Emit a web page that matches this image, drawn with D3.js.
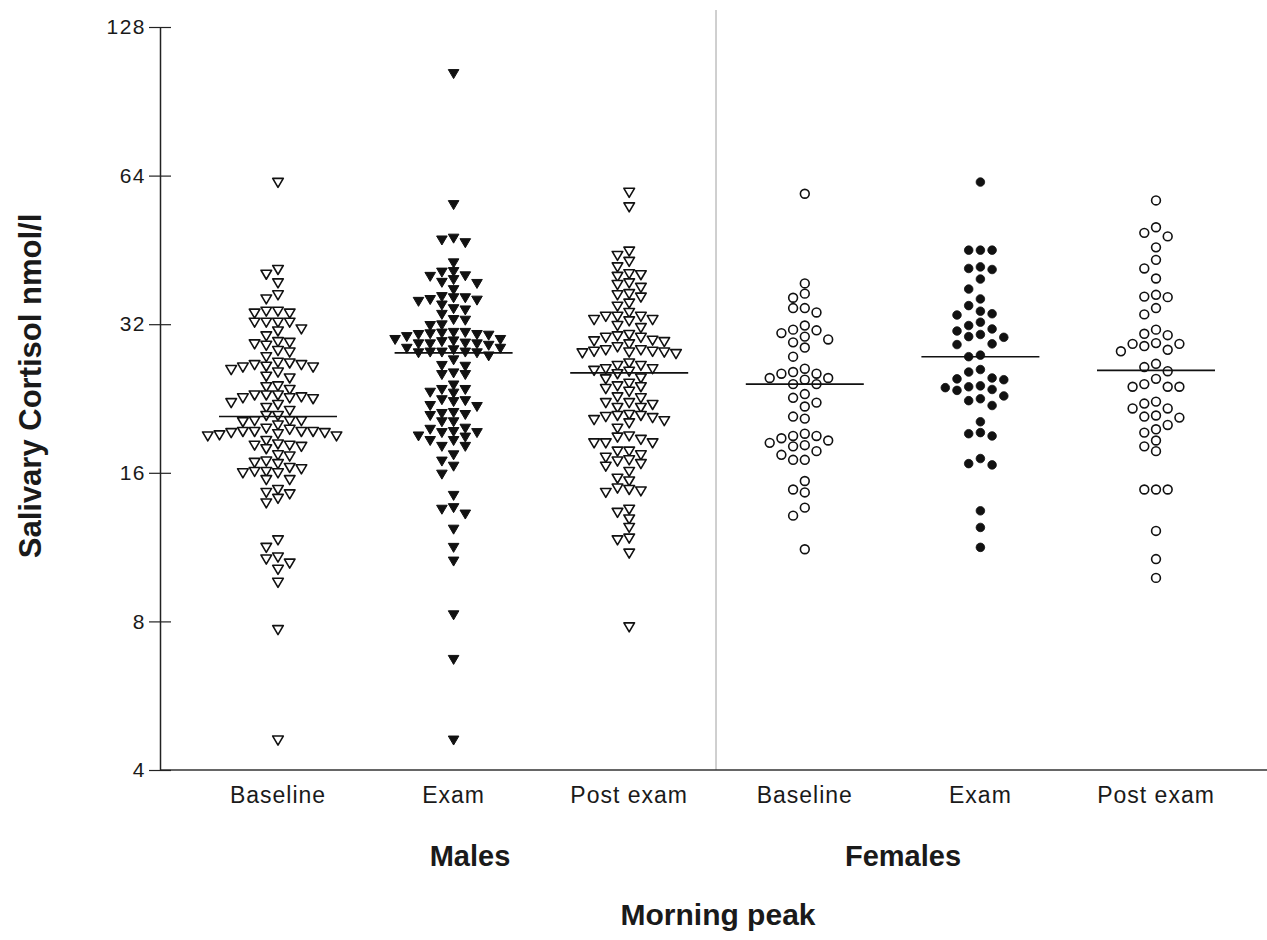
<!DOCTYPE html>
<html lang="en">
<head>
<meta charset="utf-8">
<title>Salivary cortisol</title>
<style>
  body { margin: 0; padding: 0; background: #fff; }
  svg { display: block; }
  text { font-family: "Liberation Sans", Arial, Helvetica, sans-serif; fill: #1a1a1a; }
</style>
<script src="https://cdn.jsdelivr.net/npm/d3@7"></script>
</head>
<body>
<div id="root"></div>
<script>
  // values, nmol/l
  var yTicks = [4, 8, 16, 32, 64, 128];
  var categories = ["Baseline", "Exam", "Post exam", "Baseline", "Exam", "Post exam"];
  var sexes = ["Males", "Females"];
  var axisTitle = "Salivary Cortisol nmol/l";
  var panelTitle = "Morning peak";

  var maleBaseline = [62, 41.3, 40.4, 38.8, 36.7, 36.0, 34.0, 34.0, 33.7, 33.7, 32.3, 32.3, 32.3, 32.3, 31.3, 31.0, 30.3, 29.5, 29.2, 29.0, 29.4, 28.3, 28.1, 27.5, 26.5, 26.3, 26.8, 25.9, 26.7, 25.6, 26.2, 26.2, 26.5, 24.9, 25.1, 23.9, 24.0, 23.6, 23.0, 23.0, 22.7, 22.6, 22.0, 22.2, 22.7, 22.8, 23.0, 21.7, 21.4, 20.9, 20.4, 20.4, 20.4, 20.9, 20.3, 19.7, 19.4, 19.4, 19.3, 19.4, 19.4, 19.6, 20.0, 19.1, 19.0, 19.0, 19.2, 19.3, 18.2, 18.3, 17.9, 18.2, 18.6, 18.1, 17.3, 17.4, 16.9, 16.7, 16.1, 16.0, 16.0, 16.1, 16.4, 16.8, 15.5, 15.5, 16.3, 14.6, 14.2, 14.8, 13.9, 14.5, 11.7, 11.3, 10.8, 10.5, 10.2, 10.7, 9.6, 7.7, 4.6];
  var maleExam = [103, 55.9, 47.8, 46.8, 47.4, 42.6, 40.8, 40.0, 38.9, 39.4, 38.7, 40.1, 40.9, 37.6, 36.4, 36.2, 35.9, 35.8, 35.0, 35.6, 36.2, 34.2, 34.4, 33.5, 32.7, 32.6, 31.9, 31.8, 30.8, 30.6, 30.5, 30.2, 30.4, 30.5, 30.7, 30.8, 29.8, 29.6, 29.2, 29.2, 29.0, 29.2, 29.3, 29.5, 29.8, 28.6, 28.1, 28.1, 28.0, 28.0, 28.1, 28.4, 28.6, 27.1, 27.6, 26.3, 26.4, 25.3, 25.3, 25.5, 24.1, 23.6, 23.6, 23.3, 23.2, 22.5, 22.3, 22.4, 21.8, 21.9, 21.1, 20.9, 21.0, 21.2, 20.3, 20.3, 19.6, 19.4, 19.3, 19.3, 19.7, 19.0, 18.9, 18.6, 18.1, 18.1, 18.6, 17.4, 16.9, 16.5, 15.9, 14.4, 13.6, 13.2, 13.5, 12.3, 11.3, 10.6, 8.25, 6.7, 4.6];
  var malePost = [59.2, 55.3, 45.0, 44.1, 42.9, 41.8, 40.5, 38.8, 40.3, 38.0, 38.5, 40.0, 36.9, 36.3, 34.8, 35.3, 36.7, 33.2, 32.7, 31.8, 33.2, 31.5, 33.8, 32.5, 32.7, 33.2, 30.5, 30.1, 29.7, 29.2, 29.5, 29.6, 30.1, 30.3, 28.4, 28.2, 28.1, 28.0, 27.9, 28.1, 28.2, 28.4, 28.8, 26.7, 26.4, 26.0, 25.7, 25.8, 26.0, 26.4, 25.4, 24.8, 23.7, 24.3, 24.9, 23.9, 24.0, 22.7, 22.2, 21.7, 22.8, 21.7, 23.4, 22.0, 22.2, 21.0, 20.8, 20.4, 19.7, 20.2, 20.5, 20.7, 20.9, 20.9, 19.0, 18.9, 18.7, 18.4, 18.4, 18.4, 17.7, 17.7, 17.4, 17.2, 16.9, 17.0, 16.5, 16.7, 16.1, 15.6, 15.4, 14.9, 14.7, 14.6, 14.8, 13.3, 13.5, 12.9, 12.4, 11.7, 11.8, 11.0, 7.8];
  var femaleBaseline = [58.8, 38.7, 36.9, 36.2, 34.5, 33.8, 34.5, 31.2, 30.2, 31.1, 31.8, 30.7, 29.4, 29.8, 28.7, 27.5, 26.0, 25.4, 24.9, 24.7, 24.9, 25.4, 25.6, 24.2, 24.2, 22.7, 23.1, 21.8, 22.2, 20.8, 20.6, 19.0, 18.6, 18.2, 18.1, 19.2, 18.4, 18.8, 19.0, 17.4, 17.0, 17.0, 17.7, 15.4, 14.6, 14.8, 13.6, 13.1, 11.2];
  var femaleExam = [62.1, 45.2, 45.2, 45.2, 41.8, 41.3, 41.5, 39.5, 37.7, 36.0, 34.9, 34.0, 33.4, 33.6, 32.3, 31.3, 30.5, 30.1, 30.2, 31.0, 31.8, 29.2, 29.1, 27.7, 27.5, 25.6, 25.9, 24.7, 24.8, 24.9, 23.9, 23.6, 23.5, 23.8, 24.0, 22.6, 21.9, 22.4, 22.9, 20.3, 19.3, 19.0, 19.2, 16.7, 16.6, 17.1, 13.4, 12.4, 11.3];
  var femalePost = [57.0, 49.0, 48.2, 50.3, 45.8, 43.2, 41.5, 39.6, 36.4, 36.3, 36.7, 33.5, 34.5, 30.6, 30.4, 31.2, 29.2, 28.9, 28.2, 28.4, 29.2, 29.3, 26.2, 26.6, 25.7, 24.8, 23.9, 23.9, 23.9, 24.2, 22.3, 22.1, 21.6, 21.6, 20.9, 20.7, 20.8, 20.0, 19.6, 19.3, 18.6, 17.7, 18.1, 14.8, 14.8, 14.8, 12.2, 10.7, 9.8];
  var groupMeans = [20.8, 28.0, 25.5, 24.2, 27.5, 25.8];

  var W = 1267, H = 940;
  var plotLeft = 160, plotRight = 1267, plotTop = 27, plotBottom = 770;

  // marker style per group: males triangles, females circles; exam filled
  var groups = [
    { values: maleBaseline, shape: "tri", filled: false },
    { values: maleExam, shape: "tri", filled: true },
    { values: malePost, shape: "tri", filled: false },
    { values: femaleBaseline, shape: "circ", filled: false },
    { values: femaleExam, shape: "circ", filled: true },
    { values: femalePost, shape: "circ", filled: false }
  ];

  var svg = d3.select("#root")
    .append("svg")
    .attr("width", W)
    .attr("height", H);

  var y = d3.scaleLog().base(2)
    .domain([4, 128])
    .range([plotBottom, plotTop]);

  var x = d3.scalePoint()
    .domain(d3.range(categories.length))
    .range([278, 1156]);

  // divider between males and females
  var divX = (x(2) + x(3)) / 2 - 1;
  svg.append("line")
    .attr("x1", divX).attr("x2", divX)
    .attr("y1", 10).attr("y2", plotBottom)
    .attr("stroke", "#a0a0a0")
    .attr("stroke-width", 1);

  // x baseline
  svg.append("line")
    .attr("x1", plotLeft).attr("x2", plotRight)
    .attr("y1", plotBottom).attr("y2", plotBottom)
    .attr("stroke", "#333")
    .attr("stroke-width", 1.4);

  // y axis
  var yAxis = svg.append("g")
    .attr("transform", "translate(" + plotLeft + ",0)")
    .call(d3.axisLeft(y)
      .tickValues(yTicks)
      .tickFormat(d3.format("d"))
      .tickSizeInner(11)
      .tickSizeOuter(0)
      .tickPadding(3));

  yAxis.select(".domain").attr("stroke", "#222").attr("stroke-width", 1.5);
  yAxis.selectAll(".tick line").attr("x1", -11).attr("x2", 11).attr("stroke", "#222").attr("stroke-width", 1.2);
  yAxis.selectAll(".tick text")
    .style("font-size", "21px")
    .style("letter-spacing", "1.5px")
    .attr("fill", "#1a1a1a");

  // column swarm: place each point in the nearest free column
  var colStep = 11.7;
  function swarm(values, cx, minGap) {
    var placed = [];
    return values.slice().sort(function(a, b) { return b - a; }).map(function(v) {
      var py = y(v);
      for (var k = 0; ; k++) {
        var col = k === 0 ? 0 : (k % 2 ? -Math.ceil(k / 2) : k / 2);
        var hit = placed.some(function(p) { return p.col === col && Math.abs(p.py - py) < minGap; });
        if (!hit) {
          placed.push({ col: col, py: py });
          return { x: cx + col * colStep, y: py };
        }
      }
    });
  }

  var tri = "M-5.3,-4L5.3,-4L0,5Z";

  groups.forEach(function(g, i) {
    var pts = swarm(g.values, x(i), g.shape === "tri" ? 8 : 10.2);
    var layer = svg.append("g");
    if (g.shape === "tri") {
      layer.selectAll("path")
        .data(pts)
        .enter().append("path")
          .attr("d", tri)
          .attr("transform", function(d) { return "translate(" + d.x + "," + d.y + ")"; })
          .attr("fill", g.filled ? "#111" : "#fff")
          .attr("stroke", "#111")
          .attr("stroke-width", g.filled ? 1 : 1.6)
          .attr("stroke-linejoin", "round");
    } else {
      layer.selectAll("circle")
        .data(pts)
        .enter().append("circle")
          .attr("cx", function(d) { return d.x; })
          .attr("cy", function(d) { return d.y; })
          .attr("r", g.filled ? 4.3 : 4.4)
          .attr("fill", g.filled ? "#111" : "#fff")
          .attr("stroke", "#111")
          .attr("stroke-width", g.filled ? 0.8 : 1.6);
    }
  });

  // group means
  svg.append("g").selectAll("line")
    .data(groupMeans)
    .enter().append("line")
      .attr("x1", function(d, i) { return x(i) - 59; })
      .attr("x2", function(d, i) { return x(i) + 59; })
      .attr("y1", function(d) { return y(d); })
      .attr("y2", function(d) { return y(d); })
      .attr("stroke", "#111")
      .attr("stroke-width", 1.6);

  // category labels
  svg.append("g").selectAll("text")
    .data(categories)
    .enter().append("text")
      .attr("x", function(d, i) { return x(i); })
      .attr("y", 803)
      .attr("text-anchor", "middle")
      .style("font-size", "23px")
      .style("letter-spacing", "1px")
      .text(function(d) { return d; });

  svg.append("g").selectAll("text")
    .data(sexes)
    .enter().append("text")
      .attr("x", function(d, i) { return i === 0 ? 470 : 903; })
      .attr("y", 866)
      .attr("text-anchor", "middle")
      .style("font-size", "29px")
      .style("font-weight", "bold")
      .text(function(d) { return d; });

  svg.append("text")
    .attr("x", 718)
    .attr("y", 925)
    .attr("text-anchor", "middle")
    .style("font-size", "30px")
    .style("font-weight", "bold")
    .text(panelTitle);

  svg.append("text")
    .attr("transform", "translate(41,386) rotate(-90)")
    .attr("text-anchor", "middle")
    .style("font-size", "31px")
    .style("font-weight", "bold")
    .text(axisTitle);
</script>
</body>
</html>
